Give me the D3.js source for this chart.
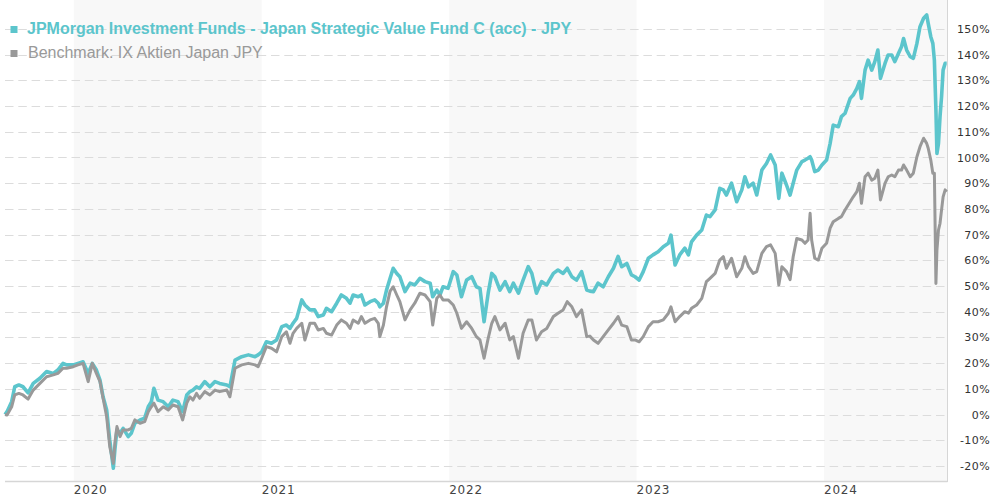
<!DOCTYPE html>
<html>
<head>
<meta charset="utf-8">
<script src="https://cdn.jsdelivr.net/npm/d3@7"></script>
<style>
  body { margin: 0; background: #fff; }
  svg { display: block; }
</style>
</head>
<body>
<svg id="chart" width="990" height="500"></svg>
<script>
const dates = [
  "2019-08-20","2019-08-24","2019-09-02","2019-09-08","2019-09-16","2019-09-24","2019-10-04","2019-10-14","2019-10-27","2019-11-09",
  "2019-11-22","2019-12-01","2019-12-11","2019-12-18","2019-12-31","2020-01-09","2020-01-19","2020-01-29","2020-02-06","2020-02-14",
  "2020-02-21","2020-02-27","2020-03-05","2020-03-11","2020-03-18","2020-03-21","2020-03-25","2020-03-31","2020-04-06","2020-04-16",
  "2020-04-22","2020-04-29","2020-05-09","2020-05-18","2020-05-25","2020-05-31","2020-06-05","2020-06-13","2020-06-23","2020-07-03",
  "2020-07-12","2020-07-22","2020-07-31","2020-08-08","2020-08-14","2020-08-20","2020-08-27","2020-09-02","2020-09-12","2020-09-22",
  "2020-10-02","2020-10-11","2020-10-25","2020-10-31","2020-11-10","2020-11-23","2020-12-06","2020-12-19","2020-12-25","2021-01-01",
  "2021-01-10","2021-01-20","2021-01-30","2021-02-09","2021-02-18","2021-02-25","2021-03-03","2021-03-10","2021-03-20","2021-03-26",
  "2021-04-05","2021-04-14","2021-04-21","2021-05-01","2021-05-07","2021-05-17","2021-05-27","2021-06-05","2021-06-15","2021-06-22",
  "2021-06-28","2021-07-08","2021-07-14","2021-07-21","2021-07-31","2021-08-09","2021-08-16","2021-08-19","2021-08-26","2021-09-01",
  "2021-09-08","2021-09-14","2021-09-21","2021-09-27","2021-10-07","2021-10-17","2021-10-26","2021-11-05","2021-11-15","2021-11-25",
  "2021-11-30","2021-12-08","2021-12-14","2021-12-20","2021-12-30","2022-01-09","2022-01-16","2022-01-25","2022-02-04","2022-02-14",
  "2022-02-23","2022-03-02","2022-03-10","2022-03-18","2022-03-25","2022-03-31","2022-04-10","2022-04-20","2022-04-29","2022-05-06",
  "2022-05-16","2022-05-25","2022-06-04","2022-06-11","2022-06-20","2022-06-30","2022-07-10","2022-07-23","2022-08-01","2022-08-11",
  "2022-08-19","2022-08-28","2022-09-06","2022-09-16","2022-09-26","2022-10-02","2022-10-09","2022-10-18","2022-10-28","2022-11-07",
  "2022-11-17","2022-11-26","2022-12-03","2022-12-13","2022-12-22","2022-12-29","2023-01-06","2023-01-14","2023-01-24","2023-02-02",
  "2023-02-12","2023-02-22","2023-03-04","2023-03-09","2023-03-17","2023-03-26","2023-04-05","2023-04-12","2023-04-18","2023-04-28",
  "2023-05-08","2023-05-17","2023-05-24","2023-06-03","2023-06-12","2023-06-19","2023-06-25","2023-07-05","2023-07-15","2023-07-25",
  "2023-07-31","2023-08-07","2023-08-16","2023-08-23","2023-09-02","2023-09-11","2023-09-19","2023-09-28","2023-10-05","2023-10-11",
  "2023-10-20","2023-10-27","2023-11-02","2023-11-09","2023-11-19","2023-11-25","2023-12-01","2023-12-05","2023-12-08","2023-12-14",
  "2023-12-21","2023-12-28","2024-01-06","2024-01-13","2024-01-19","2024-01-29","2024-02-04","2024-02-11","2024-02-21","2024-02-27",
  "2024-03-05","2024-03-10","2024-03-14","2024-03-21","2024-03-27","2024-04-03","2024-04-09","2024-04-15","2024-04-20","2024-04-29",
  "2024-05-05","2024-05-12","2024-05-18","2024-05-25","2024-05-31","2024-06-04","2024-06-10","2024-06-17","2024-06-23","2024-06-30",
  "2024-07-06","2024-07-13","2024-07-19","2024-07-22","2024-07-27","2024-07-31","2024-08-03","2024-08-06","2024-08-08","2024-08-11",
  "2024-08-14","2024-08-17","2024-08-20","2024-08-24","2024-08-27"
];

// JPMorgan Japan Strategic Value Fund C (acc), cumulative %
const fundValues = [
  0, 1.1, 5.0, 10.8, 11.5, 10.8, 8.4, 12.1, 14.1, 16.7,
  16.0, 17.3, 19.9, 19.3, 19.3, 19.9, 20.5, 16.0, 19.9, 17.3,
  13.4, 6.9, 1.8, -9.9, -20.9, -13.8, -6.0, -7.3, -5.4, -8.6,
  -7.3, -3.4, -2.1, -1.4, 3.0, 5.0, 10.2, 5.6, 5.0, 3.0,
  5.6, 5.0, 1.1, 7.6, 8.9, 9.5, 10.8, 10.2, 12.8, 10.8,
  12.8, 12.1, 11.5, 10.8, 21.2, 22.5, 23.2, 22.5, 23.2, 24.4,
  28.3, 27.7, 29.0, 34.2, 34.8, 33.5, 35.5, 37.4, 44.6, 42.6,
  40.7, 40.7, 38.1, 38.7, 41.3, 40.0, 43.3, 46.5, 45.2, 43.3,
  46.5, 45.8, 46.5, 42.6, 43.9, 44.6, 43.3, 41.9, 43.3, 48.4,
  53.0, 56.9, 54.9, 53.6, 47.8, 51.1, 50.4, 53.0, 51.7, 51.1,
  45.8, 48.4, 46.5, 49.7, 49.1, 55.6, 54.3, 45.8, 52.3, 53.6,
  49.7, 49.1, 36.1, 47.2, 54.9, 53.6, 48.4, 51.7, 47.8, 51.1,
  47.2, 52.3, 57.5, 54.9, 47.2, 51.7, 50.4, 54.9, 56.2, 54.9,
  56.9, 53.6, 52.3, 55.6, 48.4, 48.0, 47.8, 51.1, 49.7, 53.6,
  56.9, 61.5, 57.5, 58.8, 54.3, 53.6, 52.3, 55.6, 60.8, 62.1,
  63.3, 65.3, 66.6, 69.8, 58.2, 62.1, 64.7, 62.1, 67.2, 69.8,
  71.8, 77.6, 77.0, 79.6, 88.0, 87.4, 85.4, 90.0, 82.8, 87.4,
  92.5, 88.6, 90.0, 85.4, 95.1, 97.7, 101.0, 97.1, 84.1, 93.9,
  89.3, 85.4, 90.0, 95.1, 98.4, 99.0, 99.7, 100.3, 99.0, 94.5,
  95.1, 97.1, 99.0, 105.5, 112.6, 112.0, 115.9, 117.2, 123.0, 124.3,
  126.9, 129.5, 123.0, 134.0, 137.9, 134.0, 137.3, 141.8, 130.8, 136.7,
  139.9, 139.9, 137.3, 140.5, 143.1, 146.3, 141.8, 139.2, 138.6, 144.4,
  150.9, 154.2, 155.5, 152.2, 147.0, 144.4, 137.9, 118.5, 101.6, 105.5,
  115.9, 123.7, 134.0, 136.7, 136.7
];

// Benchmark: IX Aktien Japan JPY, cumulative %
const benchValues = [
  0, -0.2, 3.0, 7.6, 8.2, 7.6, 6.0, 9.5, 12.1, 14.7,
  15.4, 16.0, 18.0, 18.0, 18.6, 19.3, 19.9, 12.8, 19.9, 16.0,
  12.8, 6.3, -0.9, -12.5, -19.0, -11.1, -4.7, -8.6, -6.0, -6.0,
  -5.4, -2.1, -3.4, -2.8, 1.1, 3.0, 4.4, 1.1, 3.0, 1.8,
  3.7, 3.0, -2.1, 4.4, 6.9, 5.6, 8.2, 6.3, 8.9, 7.6,
  9.5, 8.9, 9.5, 6.9, 18.0, 19.3, 19.9, 19.3, 18.6, 21.9,
  26.4, 25.8, 24.4, 30.3, 32.2, 27.7, 31.6, 33.5, 35.5, 29.0,
  35.5, 35.5, 32.9, 33.5, 31.6, 30.9, 34.8, 36.8, 35.5, 33.5,
  36.8, 35.5, 38.1, 35.5, 36.8, 37.4, 35.5, 30.3, 34.8, 41.9,
  48.0, 49.7, 46.5, 43.9, 36.8, 40.7, 43.3, 47.2, 46.5, 43.9,
  34.8, 45.2, 46.5, 44.6, 44.6, 42.6, 39.4, 33.5, 36.1, 33.5,
  30.3, 29.0, 21.9, 29.6, 35.5, 38.1, 32.9, 35.5, 29.0, 30.3,
  21.9, 31.6, 36.8, 36.8, 29.0, 32.2, 33.5, 38.1, 39.4, 40.7,
  43.9, 41.9, 38.1, 40.7, 30.3, 30.5, 29.0, 27.7, 30.3, 32.9,
  35.5, 38.1, 34.8, 34.2, 29.0, 29.0, 28.3, 30.3, 34.2, 36.1,
  36.1, 36.8, 39.4, 41.9, 36.1, 38.1, 40.0, 39.4, 41.3, 42.6,
  45.2, 51.7, 53.0, 54.9, 60.1, 61.4, 56.9, 60.8, 53.6, 56.9,
  61.4, 57.5, 54.9, 55.6, 62.7, 65.3, 66.0, 62.7, 50.4, 57.5,
  55.6, 52.5, 61.4, 68.5, 67.9, 66.6, 67.9, 78.3, 67.9, 60.8,
  60.1, 64.7, 66.6, 72.5, 75.0, 76.3, 77.0, 79.6, 82.8, 84.7,
  86.7, 90.0, 82.2, 92.5, 93.9, 91.2, 91.9, 95.1, 83.5, 90.0,
  92.5, 93.2, 92.5, 95.1, 95.1, 97.1, 95.1, 92.5, 93.9, 100.3,
  104.2, 107.5, 105.5, 103.6, 99.0, 93.9, 93.9, 51.0, 64.0, 71.8,
  74.4, 79.6, 84.7, 87.4, 86.7
];

const seriesNames = [
  "JPMorgan Investment Funds - Japan Strategic Value Fund C (acc) - JPY",
  "Benchmark: IX Aktien Japan JPY"
];
const seriesColors = ["#5cc5cc", "#999999"];
const yTicks = d3.range(-20, 151, 10);
const shadedYears = [2020, 2022, 2024];
const yearTicks = [2020, 2021, 2022, 2023, 2024];

const plot = { left: 5, right: 947, top: 0, bottom: 482 };

const svg = d3.select("#chart");
const parse = d3.utcParse("%Y-%m-%d");
const times = dates.map(parse);

const x = d3.scaleUtc()
  .domain(d3.extent(times))
  .range([plot.left, 946.7]);

const y = d3.scaleLinear()
  .domain([-20, 150])
  .range([465.9, 29]);

// alternate year bands
svg.append("g")
  .selectAll("rect")
  .data(shadedYears)
  .join("rect")
  .attr("x", d => Math.max(plot.left, x(Date.UTC(d, 0, 1))))
  .attr("y", plot.top)
  .attr("width", d => Math.min(plot.right, x(Date.UTC(d + 1, 0, 1))) - Math.max(plot.left, x(Date.UTC(d, 0, 1))))
  .attr("height", plot.bottom - plot.top)
  .attr("fill", "#f8f8f8");

// dashed grid lines
svg.append("g")
  .selectAll("line")
  .data(yTicks)
  .join("line")
  .attr("x1", plot.left)
  .attr("x2", plot.right)
  .attr("y1", d => Math.round(y(d)) + 0.5)
  .attr("y2", d => Math.round(y(d)) + 0.5)
  .attr("stroke", "#dcdcdc")
  .attr("stroke-dasharray", "8.5,4.8");

// axis lines
svg.append("line")
  .attr("x1", plot.left).attr("x2", plot.right + 0.5)
  .attr("y1", plot.bottom - 0.5).attr("y2", plot.bottom - 0.5)
  .attr("stroke", "#d6d6d6").attr("stroke-width", 1.5);
svg.append("line")
  .attr("x1", plot.right + 0.5).attr("x2", plot.right + 0.5)
  .attr("y1", plot.top).attr("y2", plot.bottom)
  .attr("stroke", "#d6d6d6").attr("stroke-width", 1);

// series lines, fund first then benchmark on top
const line = d3.line()
  .x((d, i) => x(times[i]))
  .y(d => y(d));

[fundValues, benchValues].forEach((vals, k) => {
  svg.append("path")
    .datum(vals)
    .attr("d", line)
    .attr("fill", "none")
    .attr("stroke", seriesColors[k])
    .attr("stroke-width", k == 0 ? 3.6 : 3)
    .attr("stroke-linejoin", "round");
});

// y labels on the right
svg.append("g")
  .selectAll("text")
  .data(yTicks)
  .join("text")
  .attr("x", 990)
  .attr("y", d => y(d) + 4)
  .attr("text-anchor", "end")
  .attr("font-family", "DejaVu Sans, Verdana, sans-serif")
  .attr("font-size", 11)
  .attr("letter-spacing", 0.4)
  .attr("fill", "#333")
  .text(d => d + "%");

// year labels
svg.append("g")
  .selectAll("text")
  .data(yearTicks)
  .join("text")
  .attr("x", d => x(Date.UTC(d, 0, 1)))
  .attr("y", 494)
  .attr("font-family", "DejaVu Sans, Verdana, sans-serif")
  .attr("font-size", 12)
  .attr("letter-spacing", 0.8)
  .attr("fill", "#444")
  .text(d => d);

// legend
const legend = svg.append("g");
seriesNames.forEach((name, k) => {
  legend.append("rect")
    .attr("x", 10.5)
    .attr("y", k == 0 ? 26 : 50)
    .attr("width", 7)
    .attr("height", 7)
    .attr("fill", seriesColors[k]);
  legend.append("text")
    .attr("x", k == 0 ? 27 : 28)
    .attr("y", k == 0 ? 34 : 58)
    .attr("font-family", "Liberation Sans, Arial, sans-serif")
    .attr("font-size", 16)
    .attr("font-weight", k == 0 ? "bold" : "normal")
    .attr("fill", seriesColors[k])
    .text(name);
});
</script>
</body>
</html>
